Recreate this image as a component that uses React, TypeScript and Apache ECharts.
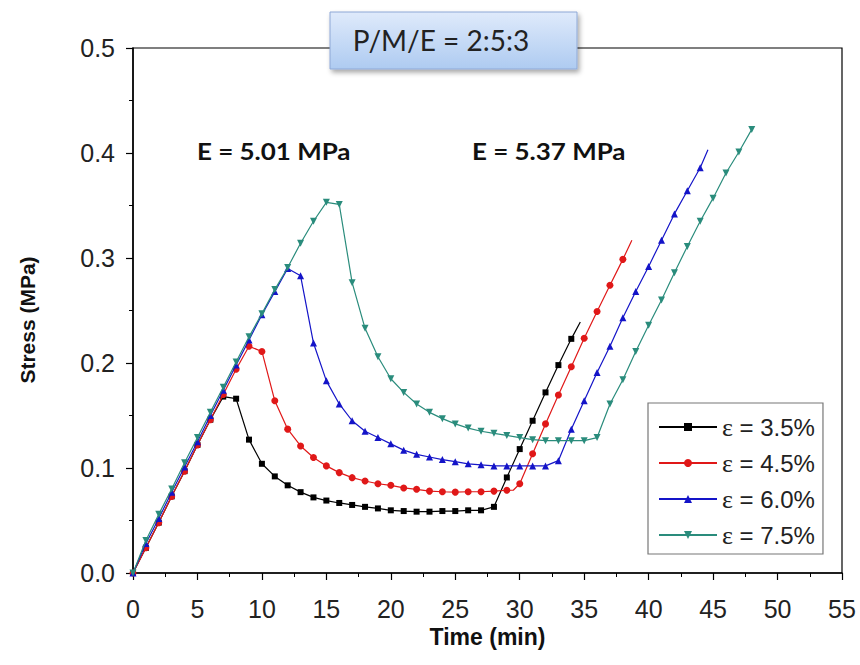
import React, { useEffect, useRef } from "react";
import * as echarts from "echarts";

// ---- data ----
const seriesNames = ["ε = 3.5%", "ε = 4.5%", "ε = 6.0%", "ε = 7.5%"];
const seriesColors = ["#000000", "#e01818", "#1414c8", "#2a8c7c"];
const seriesSymbols = ["rect", "circle", "triangle", "triangle"];

const timeBlack = [0, 1, 2, 3, 4, 5, 6, 7, 8, 9, 10, 11, 12, 13, 14, 15, 16, 17, 18, 19, 20, 21, 22, 23, 24, 25, 26, 27, 28, 29, 30, 31, 32, 33, 34, 34.7];
const stressBlack = [0, 0.024, 0.048, 0.073, 0.097, 0.122, 0.146, 0.168, 0.166, 0.127, 0.104, 0.092, 0.0835, 0.077, 0.072, 0.069, 0.0667, 0.0648, 0.063, 0.0615, 0.0597, 0.059, 0.0584, 0.0584, 0.059, 0.059, 0.0597, 0.0597, 0.063, 0.091, 0.118, 0.145, 0.172, 0.198, 0.223, 0.239];

const timeRed = [0, 1, 2, 3, 4, 5, 6, 7, 8, 9, 10, 11, 12, 13, 14, 15, 16, 17, 18, 19, 20, 21, 22, 23, 24, 25, 26, 27, 28, 29, 29.5, 30, 31, 32, 33, 34, 35, 36, 37, 38, 38.7];
const stressRed = [0, 0.024, 0.048, 0.073, 0.097, 0.122, 0.146, 0.17, 0.194, 0.216, 0.211, 0.164, 0.137, 0.121, 0.11, 0.102, 0.0956, 0.0908, 0.0876, 0.085, 0.0835, 0.081, 0.0797, 0.078, 0.0774, 0.077, 0.0774, 0.0774, 0.078, 0.0788, 0.0788, 0.085, 0.1136, 0.142, 0.1695, 0.1965, 0.2235, 0.249, 0.274, 0.2987, 0.317];

const timeBlue = [0, 1, 2, 3, 4, 5, 6, 7, 8, 9, 10, 11, 12, 13, 14, 15, 16, 17, 18, 19, 20, 21, 22, 23, 24, 25, 26, 27, 28, 29, 30, 31, 32, 33, 34, 35, 36, 37, 38, 39, 40, 41, 42, 43, 44, 44.6];
const stressBlue = [0, 0.028, 0.052, 0.077, 0.101, 0.125, 0.15, 0.174, 0.198, 0.222, 0.246, 0.268, 0.29, 0.283, 0.219, 0.183, 0.161, 0.145, 0.135, 0.129, 0.123, 0.117, 0.113, 0.1105, 0.108, 0.106, 0.104, 0.103, 0.102, 0.102, 0.102, 0.102, 0.102, 0.107, 0.137, 0.164, 0.191, 0.216, 0.243, 0.268, 0.292, 0.317, 0.342, 0.364, 0.386, 0.403];

const timeTeal = [0, 1, 2, 3, 4, 5, 6, 7, 8, 9, 10, 11, 12, 13, 14, 15, 16, 17, 18, 19, 20, 21, 22, 23, 24, 25, 26, 27, 28, 29, 30, 31, 32, 33, 34, 35, 36, 37, 38, 39, 40, 41, 42, 43, 44, 45, 46, 47, 48];
const stressTeal = [0, 0.031, 0.056, 0.08, 0.105, 0.129, 0.153, 0.177, 0.201, 0.225, 0.247, 0.27, 0.291, 0.314, 0.335, 0.353, 0.351, 0.2765, 0.233, 0.206, 0.185, 0.172, 0.161, 0.153, 0.147, 0.142, 0.138, 0.135, 0.133, 0.131, 0.129, 0.127, 0.126, 0.126, 0.126, 0.126, 0.129, 0.161, 0.184, 0.211, 0.236, 0.26, 0.286, 0.311, 0.335, 0.357, 0.381, 0.401, 0.4225];

// times that are only line corners/ends (no marker)
const unmarkedTimes = [[34.7], [29.5, 38.7], [44.6], []];

const xTicks = { min: 0, max: 55, interval: 5 };
const yTicks = { min: 0, max: 0.5, interval: 0.1 };

const titleText = "P/M/E = 2:5:3";
const modulusLabels = ["E = 5.01 MPa", "E = 5.37 MPa"];
const xName = "Time (min)";
const yName = "Stress (MPa)";

const allTimes = [timeBlack, timeRed, timeBlue, timeTeal];
const allStress = [stressBlack, stressRed, stressBlue, stressTeal];

export default function App() {
  const ref = useRef<HTMLDivElement>(null);
  useEffect(() => {
    if (!ref.current) return;
    const chart = echarts.init(ref.current, undefined, { renderer: "svg" });
    const series = seriesNames.map((name, i) => ({
      name,
      type: "line",
      data: allTimes[i].map((t, j) => {
        const item: any = { value: [t, allStress[i][j]] };
        if (unmarkedTimes[i].indexOf(t) >= 0) item.symbol = "none";
        return item;
      }),
      symbol: seriesSymbols[i],
      symbolRotate: i === 3 ? 180 : 0,
      symbolSize: i === 0 ? 6 : 7,
      showAllSymbol: true,
      lineStyle: { color: seriesColors[i], width: 1.2 },
      itemStyle: { color: seriesColors[i] },
      emphasis: { disabled: true },
      z: 2 + i,
    }));
    const axisCommon = {
      type: "value",
      splitLine: { show: false },
      axisLine: { show: true, lineStyle: { color: "#000", width: 1.5 } },
      axisTick: { show: true, inside: false, length: 7, lineStyle: { color: "#000", width: 1.2 } },
      minorTick: { show: true, splitNumber: 2, length: 4, lineStyle: { color: "#000", width: 1 } },
    };
    chart.setOption({
      animation: false,
      backgroundColor: "#fff",
      grid: { left: 133, right: 18, top: 48, bottom: 92, show: true, borderColor: "#000", borderWidth: 1.2 },
      xAxis: {
        ...axisCommon,
        ...xTicks,
        name: xName,
        nameLocation: "middle",
        nameGap: 48,
        nameTextStyle: { fontFamily: "Liberation Sans", fontWeight: "bold", fontSize: 23, color: "#111" },
        axisLabel: { color: "#222", fontSize: 25, fontFamily: "Liberation Sans", margin: 23 },
      },
      yAxis: {
        ...axisCommon,
        ...yTicks,
        axisLabel: {
          color: "#222",
          fontSize: 25,
          fontFamily: "Liberation Sans",
          margin: 18,
          formatter: (v: number) => v.toFixed(1),
        },
      },
      legend: {
        orient: "vertical",
        left: 648,
        top: 403,
        padding: [11, 8, 6, 10],
        itemGap: 10,
        itemWidth: 58,
        itemHeight: 10,
        borderColor: "#777",
        borderWidth: 1.2,
        backgroundColor: "#fff",
        data: seriesNames,
        formatter: (n: string) => `{eps|ε}{t|${n.slice(1)}}`,
        textStyle: {
          color: "#222",
          fontSize: 24,
          fontFamily: "Liberation Sans",
          rich: {
            eps: { fontFamily: "Liberation Serif", fontSize: 26, color: "#222" },
            t: { fontFamily: "Liberation Sans", fontSize: 24, color: "#222" },
          },
        },
      },
      series,
      graphic: [
        {
          type: "text",
          x: 27,
          y: 320,
          rotation: Math.PI / 2,
          style: {
            text: yName,
            font: 'bold 21px "Liberation Sans"',
            fill: "#111",
            align: "center",
            verticalAlign: "middle",
            textAlign: "center",
            textVerticalAlign: "middle",
          },
        },
        {
          type: "text",
          x: 197,
          y: 151,
          scaleX: 1.18,
          style: {
            text: modulusLabels[0],
            font: 'bold 22px "Lato"',
            fill: "#111",
            align: "left",
            verticalAlign: "middle",
            textAlign: "left",
            textVerticalAlign: "middle",
          },
        },
        {
          type: "text",
          x: 472,
          y: 151,
          scaleX: 1.18,
          style: {
            text: modulusLabels[1],
            font: 'bold 22px "Lato"',
            fill: "#111",
            align: "left",
            verticalAlign: "middle",
            textAlign: "left",
            textVerticalAlign: "middle",
          },
        },
        {
          type: "group",
          z: 100,
          children: [
            {
              type: "rect",
              shape: { x: 330, y: 12, width: 247, height: 57 },
              style: {
                fill: new echarts.graphic.LinearGradient(0, 0, 0, 1, [
                  { offset: 0, color: "#dfeafb" },
                  { offset: 1, color: "#aecbf1" },
                ]),
                stroke: "#8ea8d6",
                lineWidth: 1,
                shadowBlur: 5,
                shadowOffsetX: 2,
                shadowOffsetY: 3,
                shadowColor: "rgba(0,0,0,0.35)",
              },
            },
            {
              type: "text",
              x: 441,
              y: 40,
              style: {
                text: titleText,
                font: '28px "Lato"',
                fill: "#222",
                align: "center",
                verticalAlign: "middle",
                textAlign: "center",
                textVerticalAlign: "middle",
              },
            },
          ],
        },
      ],
    });
    return () => chart.dispose();
  }, []);
  return (
    <div
      ref={ref}
      style={{ position: "absolute", left: 0, top: 0, width: 860, height: 665 }}
    />
  );
}
